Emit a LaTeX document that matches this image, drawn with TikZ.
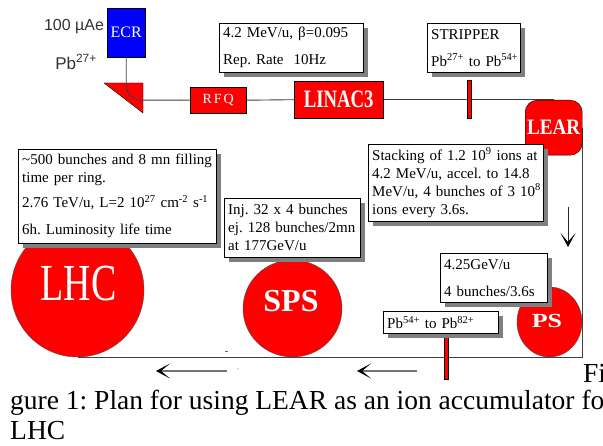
\documentclass[tikz,border=0pt]{standalone}
\usepackage{fontspec}
\setmainfont{Liberation Serif}
\setsansfont{Liberation Sans}
\usetikzlibrary{arrows.meta,shapes.geometric,shadows,backgrounds}
\frenchspacing

\begin{document}
\begin{tikzpicture}[x=1pt, y=-1pt,
	beamline/.style={draw=black!75, line width=0.9pt},
	flow/.style={draw=black!55, line width=1.1pt, -{Stealth[length=14pt, width=15pt, inset=9pt, black]}},
	element/.style={draw=black, fill=red, text=white, inner sep=0pt, anchor=north west},
	ring/.style={ellipse, draw=black!70, fill=red, inner sep=0pt},
	ringlabel/.style={text=white, inner sep=0pt},
	bar/.style={draw=black, fill=red, minimum width=4pt, inner sep=0pt},
	infobox/.style={draw=black, fill=white, anchor=north west, align=left, inner xsep=4pt, inner ysep=3pt, text width=#1, font=\fontsize{15}{18}\selectfont, execute at begin node={\rightskip=0pt plus 1fil minus 20pt}, drop shadow={shadow xshift=4.5pt, shadow yshift=-4.5pt, fill=black!50, opacity=1}},
	caption/.style={font=\fontsize{27.5}{30}\selectfont, inner sep=0pt, anchor=base west}]
	
	\clip (0,0) rectangle (603,446);
	
	% source and injector
	\node[draw=black, fill=blue, text=white, anchor=north west, minimum width=38pt, minimum height=49pt, inner sep=0pt, font=\fontsize{16}{16}\selectfont] (ecr) at (107,8) {ECR};
	\node[font=\sffamily\fontsize{16}{16}\selectfont, text=black!80] (current) at (74,27) {100 µAe};
	\node[font=\sffamily\fontsize{17}{17}\selectfont, text=black!80] (charge) at (76,62) {Pb\textsuperscript{27+}};
	\node[element, minimum width=56pt, minimum height=26pt, font=\fontsize{14}{14}\selectfont] (rfq) at (190,87) {R\kern2pt F\kern2pt Q};
	\node[element, minimum width=89pt, minimum height=37pt] (linac) at (294,81) {\scalebox{0.75}[1]{\fontsize{25}{25}\selectfont\bfseries LINAC3}};
	\node[element, rounded corners=12pt, minimum width=57pt, minimum height=55pt] (lear) at (525,100) {\scalebox{0.87}[1]{\fontsize{22}{22}\selectfont\bfseries LEAR}};
	\node[bar, minimum height=38pt] (strip) at (469,99) {};
	
	% rings
	\node[ring, minimum width=133pt, minimum height=134pt] (lhc) at (77.5,290) {};
	\node[ring, minimum width=99pt, minimum height=97pt] (sps) at (292.5,308.5) {};
	\node[ring, minimum width=65pt, minimum height=70pt] (ps) at (549.5,322) {};
	\node[ringlabel] (lhcname) at (78.5,284) {\scalebox{0.73}[1]{\fontsize{52}{52}\selectfont LHC}};
	\node[ringlabel] (spsname) at (291,301.5) {\fontsize{32}{32}\selectfont\bfseries SPS};
	\node[ringlabel] (psname) at (547,321) {\scalebox{1.3}[1]{\fontsize{20}{20}\selectfont\bfseries PS}};
	\node[bar, minimum height=42pt] (stripb) at (446,358) {};
	
	\begin{scope}[on background layer]
		\draw[fill=red, draw=black] (104,83) -- (143,83) -- (143,113) -- cycle;
		\draw[beamline, rounded corners=15pt] (ecr.south) |- (rfq.west);
		\draw[beamline] (rfq.east) -- (linac.west);
		\draw[beamline] (linac.east) -- (linac.east -| lear.north);
		\draw[beamline] (lear.east) |- (lhc.south);
	\end{scope}
	
	% direction of the beam
	\coordinate (downtail) at (568,207);
	\coordinate (downtip) at (568,247);
	\coordinate (lhctail) at (227,371);
	\coordinate (lhctip) at (156,371);
	\coordinate (spstail) at (417,371);
	\coordinate (spstip) at (357,371);
	\draw[flow, draw=black!85, line width=0.8pt] (downtail) -- (downtip);
	\draw[flow] (lhctail) -- (lhctip);
	\draw[flow] (spstail) -- (spstip);
	\fill[black!60] (225,351.5) rectangle (228,352.5);
	\fill[black!60] (238,369) circle (0.6);
	
	% notes
	\node[infobox=136pt, minimum height=49pt] (beaminfo) at (219,23) {4.2 MeV/u, β=0.095\\[9pt]Rep. Rate\ \ 10Hz};
	\node[infobox=85pt, minimum height=49pt] (stripinfo) at (427,23) {STRIPPER\\[9pt]Pb\textsuperscript{27+} to Pb\textsuperscript{54+}};
	\node[infobox=190pt, minimum height=94pt] (lhcinfo) at (18,149) {\string~500 bunches and 8 mn filling\\time per ring.\\[7pt]2.76 TeV/u, L=2 10\textsuperscript{27} cm\textsuperscript{-2} s\textsuperscript{-1}\\[9pt]6h. Luminosity life time};
	\node[infobox=128pt, minimum height=59pt] (spsinfo) at (224,198) {Inj. 32 x 4 bunches\\ej. 128 bunches/2mn\\at 177GeV/u};
	\node[infobox=167pt, minimum height=77pt] (learinfo) at (368,144) {Stacking of 1.2 10\textsuperscript{9} ions at\\4.2 MeV/u, accel. to 14.8\\MeV/u, 4 bunches of 3 10\textsuperscript{8}\\ions every 3.6s.};
	\node[infobox=99pt, minimum height=49pt] (psinfo) at (440,253) {4.25GeV/u\\[9pt]4 bunches/3.6s};
	\node[infobox=107pt, minimum height=22pt] (stripbinfo) at (383,311) {Pb\textsuperscript{54+} to Pb\textsuperscript{82+}};
	
	% caption
	\node[caption] (figlabel) at (583,383) {Fi};
	\node[caption] (captionline) at (10,410) {gure 1: Plan for using LEAR as an ion accumulator for};
	\node[caption] (captionend) at (10,440) {LHC};

\end{tikzpicture}
\end{document}
